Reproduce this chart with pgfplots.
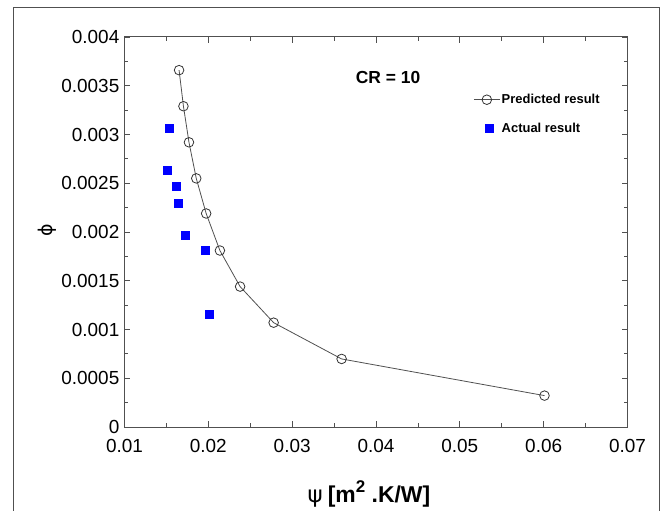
\documentclass[border=0pt]{standalone}
\usepackage{fontspec}
\setmainfont{Liberation Sans}
\newfontfamily\dejavu{DejaVu Sans}
\usepackage{pgfplots}
\pgfplotsset{compat=1.18}
\definecolor{axgray}{HTML}{505050}
\definecolor{actblue}{HTML}{0000FF}
\pgfplotsset{
  predimg/.style={legend image code/.code={\draw[mark repeat=2,mark phase=2,##1] plot coordinates {(0bp,0bp) (13bp,0bp) (26bp,0bp)};}},
  actimg/.style={legend image code/.code={\draw[only marks,mark repeat=2,mark phase=2,##1] plot coordinates {(2bp,0bp) (15bp,0bp) (28bp,0bp)};}},
}

\begin{document}
\begin{tikzpicture}
\useasboundingbox (-124.5bp,-84bp) rectangle (547.5bp,427bp);
\draw[axgray, line width=1bp] (-110.5bp,-90bp) rectangle (534.5bp,419bp);
\begin{axis}[
  at={(0,0)}, anchor=south west,
  scale only axis, width=503bp, height=390bp,
  xmin=0.01, xmax=0.07, ymin=0, ymax=0.004,
  scaled ticks=false,
  xtick={0.01,0.02,0.03,0.04,0.05,0.06,0.07},
  xticklabels={0.01,0.02,0.03,0.04,0.05,0.06,0.07},
  ytick={0,0.0005,0.001,0.0015,0.002,0.0025,0.003,0.0035,0.004},
  yticklabels={0,0.0005,0.001,0.0015,0.002,0.0025,0.003,0.0035,0.004},
  minor x tick num=1, minor y tick num=1,
  tick align=inside,
  xtick pos=both, ytick pos=both,
  major tick length=6bp, minor tick length=4bp,
  axis line style={axgray, line width=1bp},
  every tick/.style={axgray, line width=0.8bp},
  tick label style={font=\fontsize{19}{19}\selectfont, inner sep=1bp},
  yticklabel style={xshift=-4bp},
  xticklabel style={yshift=-11bp},
  xlabel={{\dejavu ψ}\hspace{5bp}\textbf{[m\raisebox{0.45em}{\fontsize{17}{17}\selectfont 2} .K/W]}},
  xlabel style={font=\fontsize{23}{23}\selectfont, at={(axis description cs:0.486,-0.172)}, anchor=center},
  ylabel={\dejavu ϕ},
  ylabel style={font=\fontsize{19}{19}\selectfont, at={(axis description cs:-0.154,0.505)}, anchor=center},
  legend style={at={(axis cs:0.0516,0.00343)}, anchor=north west, draw=none, fill=none,
    font=\bfseries\fontsize{13}{13}\selectfont, row sep=15bp, inner sep=0pt,
    nodes={inner sep=1.5bp}},
  legend cell align=left,
]
\addplot[color=axgray, line width=0.8bp, mark=o, mark size=4.8bp,
  mark options={fill=white, draw=black!80, line width=0.8bp}, predimg]
  coordinates {
  (0.01651,0.00366) (0.01703,0.00329) (0.01769,0.00292) (0.01856,0.00255)
  (0.01974,0.00219) (0.02138,0.00181) (0.02379,0.00144) (0.02779,0.00107)
  (0.0359,0.000698) (0.0601,0.000322)
  };
\addlegendentry{Predicted result}
\addplot[only marks, mark=square*, mark size=4bp, color=actblue, actimg]
  coordinates {
  (0.01533,0.00306) (0.01508,0.002637) (0.01615,0.002468) (0.01636,0.002295)
  (0.01728,0.00197) (0.01959,0.001814) (0.0201,0.001156)
  };
\addlegendentry{Actual result}
\node[font=\bfseries\fontsize{17.5}{17.5}\selectfont] at (axis cs:0.04144,0.00358) {CR = 10};
\end{axis}
\end{tikzpicture}
\end{document}
